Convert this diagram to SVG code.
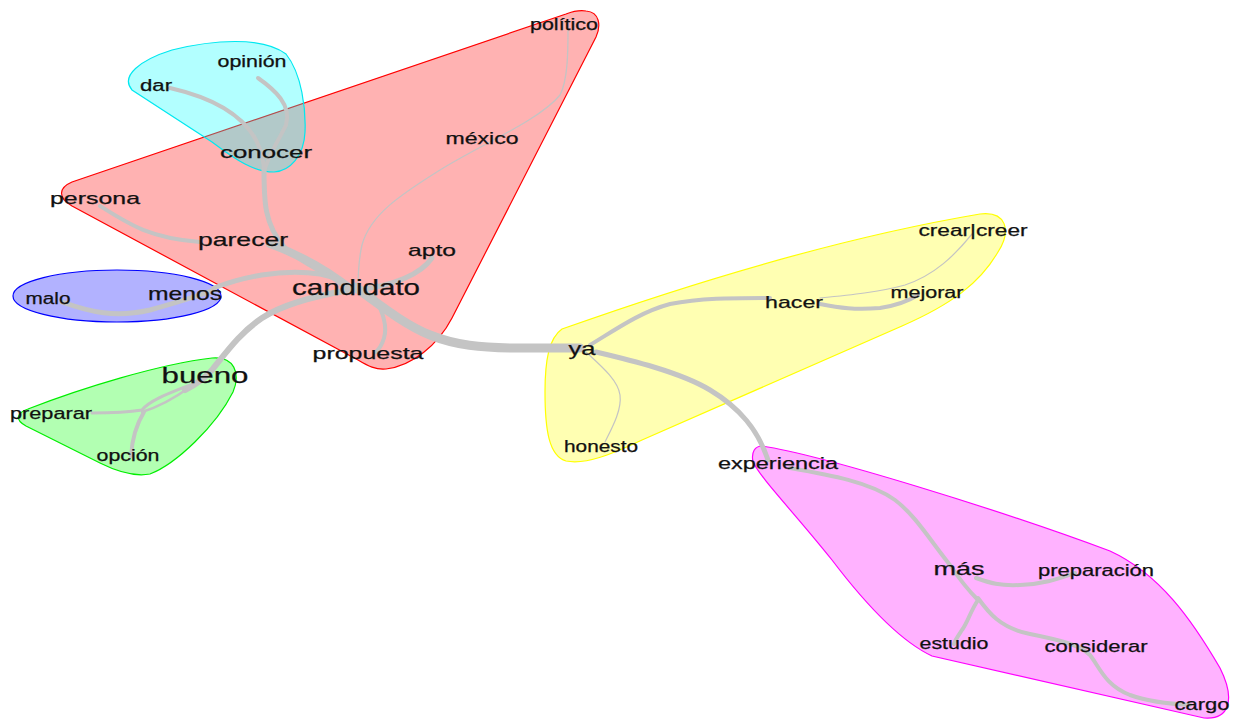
<svg xmlns="http://www.w3.org/2000/svg" width="1240" height="720" viewBox="0 0 1240 720">
<style>
.grp{stroke-width:1.2}
.e{fill:none;stroke:#c4c4c4;stroke-linecap:round}
text{font-family:"Liberation Sans",Arial,sans-serif;fill:#111;stroke:#111;stroke-width:0.25;text-anchor:middle}
.s{font-size:16px}.m{font-size:17px}.l{font-size:19px}.xl{font-size:22px}
</style>
<rect width="1240" height="720" fill="#fff"/>
<g id="groups">
<path id="g-red" class="grp" fill="#ff0000" fill-opacity="0.3" stroke="#ff0000" d="M586,11 C600,12 601,26 596,37 L452,318 C438,345 412,366 386,369 C376,370 368,366 358,360 L72,206 C58,198 58,188 72,182 L566,14 C574,11 580,10 586,11 Z"/>
<path id="g-cyan" class="grp" fill="#00ffff" fill-opacity="0.3" stroke="#00e8f0" d="M132,90 C120,76 140,60 172,50 C212,40 262,36 286,54 C302,74 306,110 305,132 C304,156 290,171 274,172 C254,172 236,160 212,142 Z"/>
<ellipse id="g-blue" class="grp" cx="117" cy="296" rx="104" ry="26" fill="#0000ff" fill-opacity="0.3" stroke="#0000ff"/>
<path id="g-green" class="grp" fill="#00ff00" fill-opacity="0.3" stroke="#00ee00" d="M28,409 C82,388 160,364 212,358 C234,356 241,373 233,392 C216,426 176,464 150,474 C134,477 116,471 100,463 L26,426 C15,420 16,413 28,409 Z"/>
<path id="g-yellow" class="grp" fill="#ffff00" fill-opacity="0.3" stroke="#ffff00" d="M562,329 C700,280 850,236 980,214 C1006,211 1012,230 998,252 C980,283 952,304 902,326 L642,440 C612,454 586,465 566,461 C549,456 545,430 545,392 C545,360 549,338 562,329 Z"/>
<path id="g-magenta" class="grp" fill="#ff00ff" fill-opacity="0.3" stroke="#ff00ff" d="M762,446 C822,455 1000,510 1110,551 C1160,574 1192,620 1220,668 C1236,700 1229,720 1204,718 L932,656 C902,642 870,610 832,560 C792,510 762,480 753,462 C751,452 755,446 762,446 Z"/>
</g>
<g id="connectors">
<path class="e" stroke-width="4" d="M258,78 C275,90 292,105 286,125 C278,142 268,155 264,172"/>
<path class="e" stroke-width="4" d="M170,88 C205,96 240,110 256,140 C262,152 264,162 264,172"/>
<path class="e" stroke-width="5" d="M264,170 C264,200 264,225 285,248 C305,265 330,275 350,287"/>
<path class="e" stroke-width="4" d="M100,206 C130,225 150,238 200,242"/>
<path class="e" stroke-width="8" d="M270,244 C300,255 325,268 352,290"/>
<path class="e" stroke-width="1.3" d="M568,30 C568,50 568,80 560,95 C540,120 480,145 440,170 C400,195 370,215 362,245 C358,262 358,278 358,290"/>
<path class="e" stroke-width="5" d="M432,258 C420,275 395,285 358,290"/>
<path class="e" stroke-width="5" d="M214,288 C240,278 280,268 320,274 C335,277 345,282 352,288"/>
<path class="e" stroke-width="5" d="M62,302 C90,312 115,318 150,310 C175,303 195,297 214,290"/>
<path class="e" stroke-width="6" d="M350,290 C320,295 285,303 262,318 C240,333 228,350 212,370 C205,378 195,385 185,390"/>
<path class="e" stroke-width="3" d="M190,385 C170,393 150,400 142,410 C130,412 110,413 92,413"/>
<path class="e" stroke-width="2.5" d="M190,387 C172,400 155,408 142,412"/>
<path class="e" stroke-width="4" d="M144,412 C136,425 132,440 131,456"/>
<path class="e" stroke-width="4" d="M374,296 C382,310 388,325 384,338 C382,345 378,350 376,352"/>
<path class="e" stroke-width="9" d="M355,287 C380,305 405,325 430,335 C455,345 480,348 520,348 L580,348"/>
<path class="e" stroke-width="4" d="M590,345 C615,330 640,312 670,304 C700,298 730,298 770,298"/>
<path class="e" stroke-width="4" d="M820,304 C840,308 855,310 880,308 C900,305 910,300 918,295"/>
<path class="e" stroke-width="1.2" d="M820,298 C850,295 880,292 905,285 C935,275 955,255 972,234"/>
<path class="e" stroke-width="1.2" d="M586,352 C600,365 618,380 620,395 C622,410 612,428 605,442"/>
<path class="e" stroke-width="5" d="M596,352 C630,360 680,372 710,390 C740,408 758,430 768,460"/>
<path class="e" stroke-width="4" d="M790,468 C830,475 870,482 895,500 C915,515 930,540 950,565 C960,580 970,592 978,600"/>
<path class="e" stroke-width="4" d="M976,578 C990,583 1000,586 1020,585 C1045,584 1060,578 1075,573"/>
<path class="e" stroke-width="4" d="M978,600 C970,612 968,622 962,630 C958,636 955,640 954,644"/>
<path class="e" stroke-width="4" d="M978,598 C988,612 1000,628 1030,634 C1060,640 1080,645 1090,655 C1100,668 1105,685 1130,695 C1150,702 1170,704 1190,705"/>
</g>
<g id="n-politico"><text class="s" x="564" y="30" textLength="68" lengthAdjust="spacingAndGlyphs">político</text></g>
<g id="n-opinion"><text class="s" x="252" y="67" textLength="69" lengthAdjust="spacingAndGlyphs">opinión</text></g>
<g id="n-dar"><text class="s" x="156" y="91" textLength="32" lengthAdjust="spacingAndGlyphs">dar</text></g>
<g id="n-mexico"><text class="m" x="482" y="144" textLength="73" lengthAdjust="spacingAndGlyphs">méxico</text></g>
<g id="n-conocer"><text class="m" x="266" y="158" textLength="92" lengthAdjust="spacingAndGlyphs">conocer</text></g>
<g id="n-persona"><text class="m" x="95" y="204" textLength="90" lengthAdjust="spacingAndGlyphs">persona</text></g>
<g id="n-parecer"><text class="l" x="243" y="246" textLength="90" lengthAdjust="spacingAndGlyphs">parecer</text></g>
<g id="n-apto"><text class="m" x="432" y="256" textLength="48" lengthAdjust="spacingAndGlyphs">apto</text></g>
<g id="n-candidato"><text class="xl" x="356" y="295" textLength="128" lengthAdjust="spacingAndGlyphs">candidato</text></g>
<g id="n-malo"><text class="s" x="48" y="304" textLength="45" lengthAdjust="spacingAndGlyphs">malo</text></g>
<g id="n-menos"><text class="l" x="185" y="300" textLength="74" lengthAdjust="spacingAndGlyphs">menos</text></g>
<g id="n-propuesta"><text class="m" x="368" y="359" textLength="111" lengthAdjust="spacingAndGlyphs">propuesta</text></g>
<g id="n-bueno"><text class="xl" x="205" y="383" textLength="87" lengthAdjust="spacingAndGlyphs">bueno</text></g>
<g id="n-preparar"><text class="s" x="51" y="419" textLength="82" lengthAdjust="spacingAndGlyphs">preparar</text></g>
<g id="n-opcion"><text class="s" x="128" y="461" textLength="63" lengthAdjust="spacingAndGlyphs">opción</text></g>
<g id="n-crear"><text class="s" x="973" y="236" textLength="109" lengthAdjust="spacingAndGlyphs">crear|creer</text></g>
<g id="n-hacer"><text class="m" x="794" y="308" textLength="58" lengthAdjust="spacingAndGlyphs">hacer</text></g>
<g id="n-mejorar"><text class="s" x="927" y="298" textLength="73" lengthAdjust="spacingAndGlyphs">mejorar</text></g>
<g id="n-ya"><text class="l" x="582" y="355" textLength="27" lengthAdjust="spacingAndGlyphs">ya</text></g>
<g id="n-honesto"><text class="s" x="601" y="452" textLength="74" lengthAdjust="spacingAndGlyphs">honesto</text></g>
<g id="n-experiencia"><text class="m" x="778" y="469" textLength="120" lengthAdjust="spacingAndGlyphs">experiencia</text></g>
<g id="n-mas"><text class="l" x="959" y="575" textLength="51" lengthAdjust="spacingAndGlyphs">más</text></g>
<g id="n-preparacion"><text class="s" x="1096" y="576" textLength="116" lengthAdjust="spacingAndGlyphs">preparación</text></g>
<g id="n-estudio"><text class="s" x="954" y="649" textLength="69" lengthAdjust="spacingAndGlyphs">estudio</text></g>
<g id="n-considerar"><text class="m" x="1096" y="652" textLength="103" lengthAdjust="spacingAndGlyphs">considerar</text></g>
<g id="n-cargo"><text class="s" x="1202" y="710" textLength="55" lengthAdjust="spacingAndGlyphs">cargo</text></g>
</svg>
